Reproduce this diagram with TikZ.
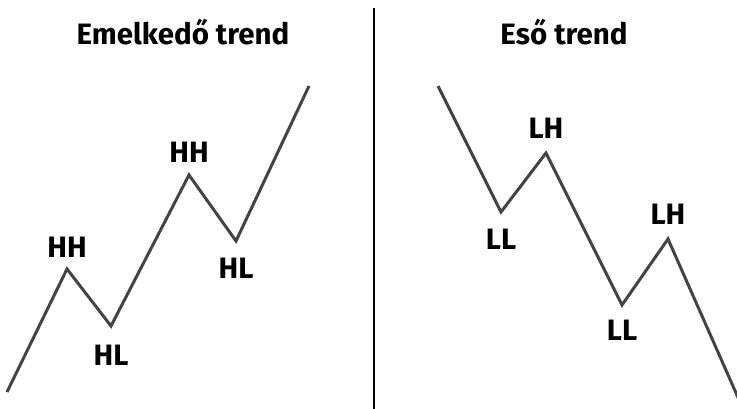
\documentclass[tikz,border=0pt]{standalone}
\usepackage{fontspec}
\setmainfont{Fira Sans}
\usetikzlibrary{positioning}
\definecolor{trendgray}{HTML}{444444}

\begin{document}
\begin{tikzpicture}[x=1pt, y=-1pt,
    trend/.style={draw=trendgray, line width=3pt, line join=miter},
    divider/.style={draw=black, line width=2pt},
    lbl/.style={font=\fontsize{29.5}{31}\selectfont\bfseries, inner sep=0pt},
    ttl/.style={font=\fontsize{29.5}{31}\selectfont\bfseries, inner sep=0pt, anchor=base}]
    \useasboundingbox (0,0) rectangle (737,409);
    % titles
    \node[ttl] (uptitle) at (183,45) {Emelkedő trend};
    \node[ttl] (downtitle) at (564,45) {Eső trend};
    % divider
    \coordinate (dtop) at (374,8);
    \coordinate (dbot) at (374,409);
    \draw[divider] (dtop) -- (dbot);
    % rising trend (left)
    \coordinate (u0) at (7,392);
    \coordinate (u1) at (67,269);
    \coordinate (u2) at (111,326);
    \coordinate (u3) at (189,175);
    \coordinate (u4) at (236,241);
    \coordinate (u5) at (309,86);
    \draw[trend] (u0) -- (u1) -- (u2) -- (u3) -- (u4) -- (u5);
    \node[lbl, above=11pt of u1] (hh1) {HH};
    \node[lbl, below=19pt of u2] (hl1) {HL};
    \node[lbl, above=12pt of u3] (hh2) {HH};
    \node[lbl, below=17pt of u4] (hl2) {HL};
    % falling trend (right)
    \coordinate (d0) at (438,86);
    \coordinate (d1) at (501,212);
    \coordinate (d2) at (546,153);
    \coordinate (d3) at (622,305);
    \coordinate (d4) at (668,239);
    \coordinate (d5) at (740,402);
    \draw[trend] (d0) -- (d1) -- (d2) -- (d3) -- (d4) -- (d5);
    \node[lbl, below=17pt of d1] (ll1) {LL};
    \node[lbl, above=14pt of d2] (lh1) {LH};
    \node[lbl, below=15pt of d3] (ll2) {LL};
    \node[lbl, above=14pt of d4] (lh2) {LH};
\end{tikzpicture}
\end{document}
